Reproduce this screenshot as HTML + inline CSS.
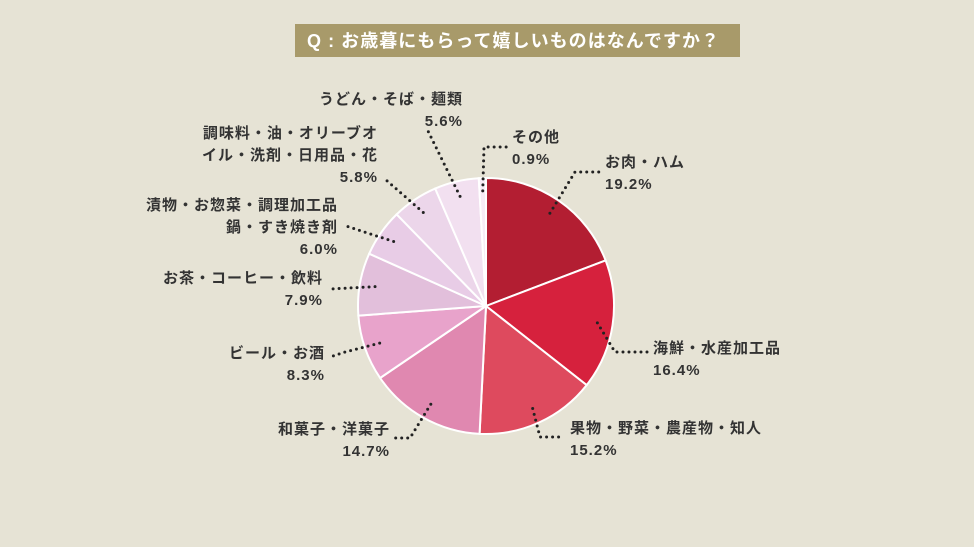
<!DOCTYPE html>
<html><head><meta charset="utf-8"><style>
html,body{margin:0;padding:0;background:#e6e3d5;}
svg{display:block;font-family:"Liberation Sans","Noto Sans CJK JP",sans-serif;}
.lb{font-size:15px;font-weight:bold;fill:#333;letter-spacing:1px;}
.ld{fill:none;stroke:#222;stroke-width:3;stroke-linecap:round;stroke-dasharray:0 6;}
</style></head><body>
<svg id="chart" width="974" height="547" viewBox="0 0 974 547">
<rect width="974" height="547" fill="#e6e3d5"/>
<rect x="295" y="24" width="445" height="33" fill="#a89a6a"/>
<text x="307" y="47" fill="#fff" font-size="18" font-weight="bold" textLength="412">Q : お歳暮にもらって嬉しいものはなんですか？</text>
<g id="slices"></g>
<g id="labels"></g>
</svg>
<script>
const categories=["お肉・ハム","海鮮・水産加工品","果物・野菜・農産物・知人","和菓子・洋菓子","ビール・お酒","お茶・コーヒー・飲料","漬物・お惣菜・調理加工品 鍋・すき焼き剤","調味料・油・オリーブオイル・洗剤・日用品・花","うどん・そば・麺類","その他"];
const values=[19.2,16.4,15.2,14.7,8.3,7.9,6.0,5.8,5.6,0.9];
const valueLabels=["19.2%","16.4%","15.2%","14.7%","8.3%","7.9%","6.0%","5.8%","5.6%","0.9%"];
const colors=["#b31e32","#d6213d","#de4a5e","#e088b0","#e8a3cb","#e2bfdb","#e8cce6","#ecd6ea","#f2e0f0","#f7ecf6"];
const layout=[
 {lines:["お肉・ハム"],a:"start",x:605,y:167,w:[[575,172],[600,172]]},
 {lines:["海鮮・水産加工品"],a:"start",x:653,y:353,w:[[615,352],[648,352]]},
 {lines:["果物・野菜・農産物・知人"],a:"start",x:570,y:433,w:[[540,437],[562,437]]},
 {lines:["和菓子・洋菓子"],a:"end",x:390,y:434,w:[[410,438],[392,438]]},
 {lines:["ビール・お酒"],a:"end",x:325,y:358,w:[[345,352],[330,357]]},
 {lines:["お茶・コーヒー・飲料"],a:"end",x:323,y:283,w:[[330,289]]},
 {lines:["漬物・お惣菜・調理加工品","鍋・すき焼き剤"],a:"end",x:338,y:210,w:[[346,226]]},
 {lines:["調味料・油・オリーブオ","イル・洗剤・日用品・花"],a:"end",x:378,y:138,w:[[386,180]]},
 {lines:["うどん・そば・麺類"],a:"end",x:463,y:104,w:[[428,131]]},
 {lines:["その他"],a:"start",x:512,y:142,w:[[484,147],[508,147]]}
];
const cx=486,cy=306,R=128;
const NS="http://www.w3.org/2000/svg";
const total=values.reduce((a,b)=>a+b,0);
function pt(frac,r){const ang=frac*2*Math.PI-Math.PI/2;return [cx+r*Math.cos(ang),cy+r*Math.sin(ang)];}
const gs=document.getElementById('slices'),gl=document.getElementById('labels');
let acc=0;
values.forEach((v,i)=>{
 const f0=acc/total,f1=(acc+v)/total;acc+=v;
 const p0=pt(f0,R),p1=pt(f1,R),large=(f1-f0)>0.5?1:0;
 const p=document.createElementNS(NS,'path');
 p.setAttribute('d',`M${cx},${cy} L${p0[0]},${p0[1]} A${R},${R} 0 ${large} 1 ${p1[0]},${p1[1]} Z`);
 p.setAttribute('fill',colors[i]);p.setAttribute('stroke','#fff');p.setAttribute('stroke-width','2');
 
 
 gs.appendChild(p);
 const L=layout[i];
 const inner=pt((f0+f1)/2,R*(i==9?0.9:0.88));
 const pts=[inner].concat(L.w);
 const pl=document.createElementNS(NS,'polyline');
 pl.setAttribute('points',pts.map(q=>q.join(',')).join(' '));
 pl.setAttribute('class','ld');
 
 
 gl.appendChild(pl);
 const all=L.lines.concat([valueLabels[i]]);
 all.forEach((t,j)=>{
  const tx=document.createElementNS(NS,'text');
  tx.setAttribute('x',L.x);tx.setAttribute('y',L.y+j*22);
  tx.setAttribute('text-anchor',L.a);tx.setAttribute('class','lb');
  tx.textContent=t;
  
  
  gl.appendChild(tx);
 });
});
</script>
</body></html>
